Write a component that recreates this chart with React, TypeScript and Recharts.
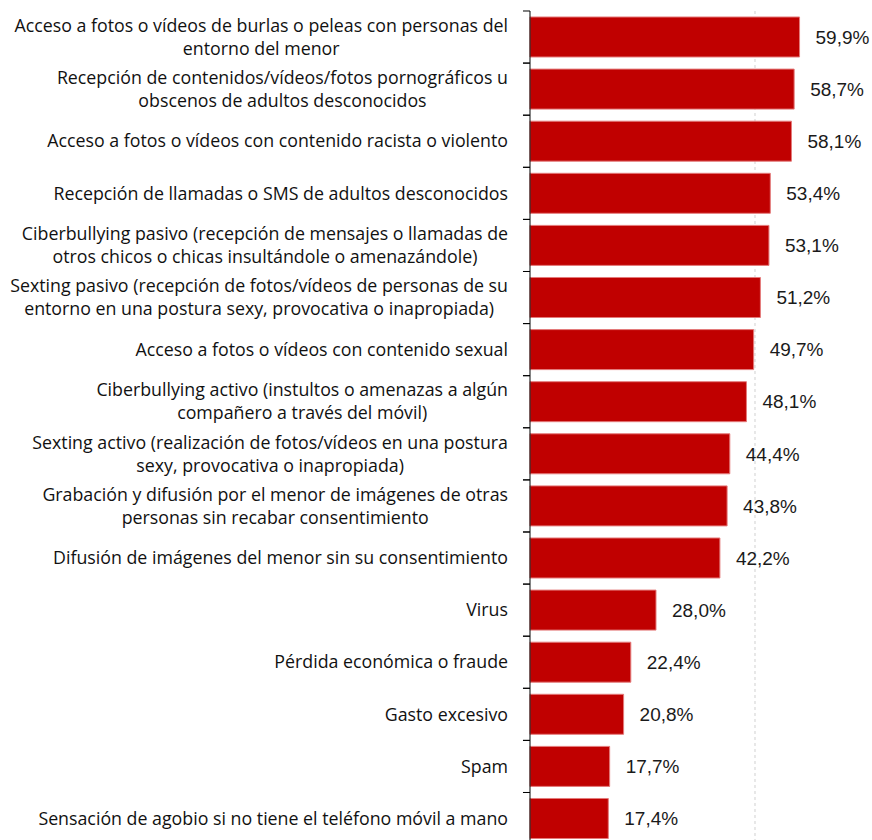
import React from 'react'
import { BarChart, Bar, XAxis, YAxis, CartesianGrid, LabelList } from 'recharts'

const categories = [
  'Acceso a fotos o vídeos de burlas o peleas con personas del\nentorno del menor',
  'Recepción de contenidos/vídeos/fotos pornográficos u\nobscenos de adultos desconocidos',
  'Acceso a fotos o vídeos con contenido racista o violento',
  'Recepción de llamadas o SMS de adultos desconocidos',
  'Ciberbullying pasivo (recepción de mensajes o llamadas de\notros chicos o chicas insultándole o amenazándole)',
  'Sexting pasivo (recepción de fotos/vídeos de personas de su\nentorno en una postura sexy, provocativa o inapropiada)',
  'Acceso a fotos o vídeos con contenido sexual',
  'Ciberbullying activo (instultos o amenazas a algún\ncompañero a través del móvil)',
  'Sexting activo (realización de fotos/vídeos en una postura\nsexy, provocativa o inapropiada)',
  'Grabación y difusión por el menor de imágenes de otras\npersonas sin recabar consentimiento',
  'Difusión de imágenes del menor sin su consentimiento',
  'Virus',
  'Pérdida económica o fraude',
  'Gasto excesivo',
  'Spam',
  'Sensación de agobio si no tiene el teléfono móvil a mano',
]

const values = [59.9, 58.7, 58.1, 53.4, 53.1, 51.2, 49.7, 48.1, 44.4, 43.8, 42.2, 28.0, 22.4, 20.8, 17.7, 17.4]

const gridLine = 50
const xMax = 70

const data = categories.map((name, i) => ({ name, value: values[i] }))

const LABEL_FONT = '"Open Sans", sans-serif'
const LABEL_SIZE = 17.8
const TOP = 11
const BAND = 52.1

let ctx: CanvasRenderingContext2D | null = null
function textWidth(s: string) {
  if (!ctx) ctx = document.createElement('canvas').getContext('2d')
  if (!ctx) return s.length * 8
  ctx.font = `${LABEL_SIZE}px ${LABEL_FONT}`
  return ctx.measureText(s).width
}

function CategoryTick({ x, y, payload }: any) {
  const lines: string[] = String(payload.value).split('\n')
  const right = x - 22
  const w = Math.max(...lines.map(textWidth))
  const cx = right - w / 2
  const lh = 23
  const y0 = y - ((lines.length - 1) * lh) / 2
  return (
    <g>
      <line x1={x - 7} x2={x} y1={y - BAND / 2} y2={y - BAND / 2} stroke="#000" />
      <line x1={x - 7} x2={x} y1={y + BAND / 2} y2={y + BAND / 2} stroke="#000" />
      <text textAnchor="middle" fontFamily={LABEL_FONT} fontSize={LABEL_SIZE} fill="#111">
        {lines.map((l, i) => (
          <tspan key={i} x={cx} y={y0 + i * lh} dy="0.35em">{l}</tspan>
        ))}
      </text>
    </g>
  )
}

// single dashed gridline at 50 %, placed through the x scale
function gridX({ xAxis, offset }: any) {
  if (xAxis && typeof xAxis.scale === 'function') return [xAxis.scale(gridLine)]
  return [offset.left + (offset.width * gridLine) / xMax]
}

export default function App() {
  return (
    <div style={{ position: 'absolute', left: 0, top: 0, width: 872, height: 840, overflow: 'hidden', background: '#fff' }}>
      <BarChart
        width={872}
        height={TOP + BAND * categories.length + 5}
        data={data}
        layout="vertical"
        margin={{ top: TOP, right: 27, left: 0, bottom: 5 }}
        barSize={40}
      >
        <CartesianGrid horizontal={false} verticalCoordinatesGenerator={gridX} stroke="#d0d0d0" strokeDasharray="3 3" />
        <XAxis type="number" domain={[0, xMax]} hide />
        <YAxis
          type="category"
          dataKey="name"
          width={530}
          tickLine={false}
          tickSize={0}
          tickMargin={0}
          axisLine={{ stroke: '#000' }}
          tick={<CategoryTick />}
          interval={0}
        />
        <Bar dataKey="value" fill="#C00000" stroke="#E47A7A" strokeWidth={1} isAnimationActive={false}>
          <LabelList
            dataKey="value"
            position="right"
            offset={16}
            formatter={(v: any) => `${Number(v).toFixed(1).replace('.', ',')}%`}
            fill="#1a1a1a"
            fontSize={19}
            fontFamily='"Liberation Sans", Arial, sans-serif'
          />
        </Bar>
      </BarChart>
    </div>
  )
}
